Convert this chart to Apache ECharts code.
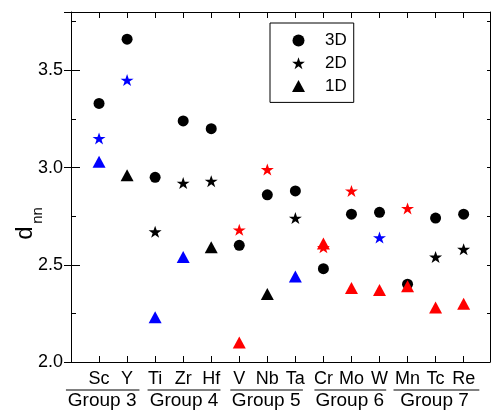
<!DOCTYPE html>
<html>
<head>
<meta charset="utf-8">
<script src="https://cdn.jsdelivr.net/npm/echarts@6/dist/echarts.min.js"></script>
<style>
html,body{margin:0;padding:0;background:#fff;overflow:hidden;}
#main{width:493px;height:412px;}
</style>
</head>
<body>
<div id="main"></div>
<script>
// ---- data ----
const categories = ['Sc','Y','Ti','Zr','Hf','V','Nb','Ta','Cr','Mo','W','Mn','Tc','Re'];
const d3D = [3.33,3.66,2.95,3.24,3.20,2.60,2.86,2.88,2.48,2.76,2.77,2.40,2.74,2.76];
const d2D = [3.15,3.45,2.67,2.92,2.93,2.68,2.99,2.74,2.59,2.88,2.64,2.79,2.54,2.58];
const d1D = [3.03,2.96,2.23,2.54,2.59,2.10,2.35,2.44,2.61,2.38,2.37,2.39,2.28,2.30];
const c3D = ['k','k','k','k','k','k','k','k','k','k','k','k','k','k'];
const c2D = ['b','b','k','k','k','r','r','k','r','r','b','r','k','k'];
const c1D = ['b','k','b','b','k','r','k','b','r','r','r','r','r','r'];
const seriesNames = ['3D','2D','1D'];
const groupNames = ['Group 3','Group 4','Group 5','Group 6','Group 7'];
const groupMembers = [['Sc','Y'],['Ti','Zr','Hf'],['V','Nb','Ta'],['Cr','Mo','W'],['Mn','Tc','Re']];
const yTickLabels = ['2.0','2.5','3.0','3.5'];

// ---- styles / layout ----
const FONT = '"Liberation Sans", Arial, sans-serif';
const colorMap = {k:'#000000', b:'#0000ff', r:'#ff0000'};
const STAR = 'path://M50,0 L61.8,35.1 L98.5,35.1 L68.8,56.8 L80,91.6 L50,70 L20,91.6 L31.2,56.8 L1.5,35.1 L38.2,35.1 Z';
const symbols = {'3D':['circle',11], '2D':[STAR,[13,12]], '1D':['triangle',[13,12]]};
// underline extents and label centers for groups (axis units, relative to members)
const groupLinePad = [[-1.18,0.44],[-0.27,0.33],[-0.32,0.27],[-0.32,0.24],[-0.50,0.56]];
const groupLabelShift = [-0.39,0.03,-0.04,-0.06,-0.04];

const XMAX = 14.94, YMIN = 2.0, YMAX = 3.8;

function buildData(vals, cols){
  return vals.map((v,i)=>({value:[i+1, v], itemStyle:{color: colorMap[cols[i]]}}));
}
const allVals = [d3D, d2D, d1D];
const allCols = [c3D, c2D, c1D];

const chart = echarts.init(document.getElementById('main'), null, {renderer:'canvas'});

const lineStyle = {color:'#000', width:1};
const baseX = {
  type:'value', min:0, max:XMAX, interval:1,
  axisLine:{show:true, onZero:false, lineStyle},
  axisTick:{show:true, inside:true, length:6, lineStyle},
  splitLine:{show:false}
};
const baseY = {
  type:'value', min:YMIN, max:YMAX,
  axisLine:{show:true, onZero:false, lineStyle},
  splitLine:{show:false}
};

const option = {
  animation:false,
  backgroundColor:'#fff',
  grid:{left:71, top:12, right:-1, bottom:50, containLabel:false},
  legend:{
    data: seriesNames,
    orient:'vertical', left:270, top:23,
    padding:[9,7,8,22],
    itemGap:5.7, itemWidth:13, itemHeight:12,
    borderColor:'#000', borderWidth:1,
    selectedMode:false,
    textStyle:{fontFamily:FONT, fontSize:17, color:'#000', padding:[0,0,0,15], lineHeight:17}
  },
  xAxis:[
    Object.assign({}, baseX, {position:'bottom',
      axisLabel:{show:true, margin:8, fontFamily:FONT, fontSize:18, color:'#000',
        formatter:(v)=>{ const i=Math.round(v); return (Math.abs(v-i)<1e-6 && i>=1 && i<=categories.length) ? categories[i-1] : ''; }}}),
    Object.assign({}, baseX, {position:'top', axisLabel:{show:false}})
  ],
  yAxis:[
    Object.assign({}, baseY, {position:'left', interval:0.25,
      axisTick:{show:true, inside:true, length:5, lineStyle},
      axisLabel:{show:true, margin:8, fontFamily:FONT, fontSize:18, color:'#000',
        formatter:(v)=>{ const s=v.toFixed(1); return yTickLabels.indexOf(s)>=0 && Math.abs(v*2-Math.round(v*2))<1e-6 ? s : ''; }}}),
    Object.assign({}, baseY, {position:'left', interval:0.5,
      axisLine:{show:false}, axisTick:{show:true, inside:true, length:9, lineStyle}, axisLabel:{show:false}}),
    Object.assign({}, baseY, {position:'right', interval:0.25,
      axisTick:{show:true, inside:true, length:3, lineStyle}, axisLabel:{show:false}}),
    Object.assign({}, baseY, {position:'right', interval:0.5,
      axisLine:{show:false}, axisTick:{show:true, inside:true, length:7, lineStyle}, axisLabel:{show:false}})
  ],
  series: seriesNames.map((name,k)=>({
    name, type:'scatter', xAxisIndex:0, yAxisIndex:0,
    symbol: symbols[name][0], symbolSize: symbols[name][1],
    itemStyle:{color:'#000', opacity:1},
    emphasis:{disabled:true},
    clip:false,
    z: 2+k,
    data: buildData(allVals[k], allCols[k])
  }))
};
chart.setOption(option);

// ---- annotations: group labels, underlines, y-axis title ----
const graphics = [];
const yLine = 390, yText = 401;
groupNames.forEach((g,gi)=>{
  const idx = groupMembers[gi].map(m=>categories.indexOf(m)+1);
  const first = Math.min(...idx), last = Math.max(...idx);
  const x1 = chart.convertToPixel({xAxisIndex:0}, first + groupLinePad[gi][0]);
  const x2 = chart.convertToPixel({xAxisIndex:0}, last + groupLinePad[gi][1]);
  const xc = chart.convertToPixel({xAxisIndex:0}, (first+last)/2 + groupLabelShift[gi]);
  graphics.push({type:'line', shape:{x1:x1, y1:yLine, x2:x2, y2:yLine}, style:{stroke:'#000', lineWidth:1}});
  graphics.push({type:'text', x:xc, y:yText, style:{text:g, fontFamily:FONT, fontSize:19, fill:'#000', align:'center', verticalAlign:'middle'}});
});
graphics.push({type:'text', x:25, y:233, rotation:Math.PI/2,
  style:{text:'d', fontFamily:FONT, fontSize:24, fill:'#000', align:'center', verticalAlign:'middle'}});
graphics.push({type:'text', x:38, y:215.5, rotation:Math.PI/2,
  style:{text:'nn', fontFamily:FONT, fontSize:15, fill:'#000', align:'center', verticalAlign:'middle'}});
chart.setOption({graphic: graphics});
</script>
</body>
</html>
